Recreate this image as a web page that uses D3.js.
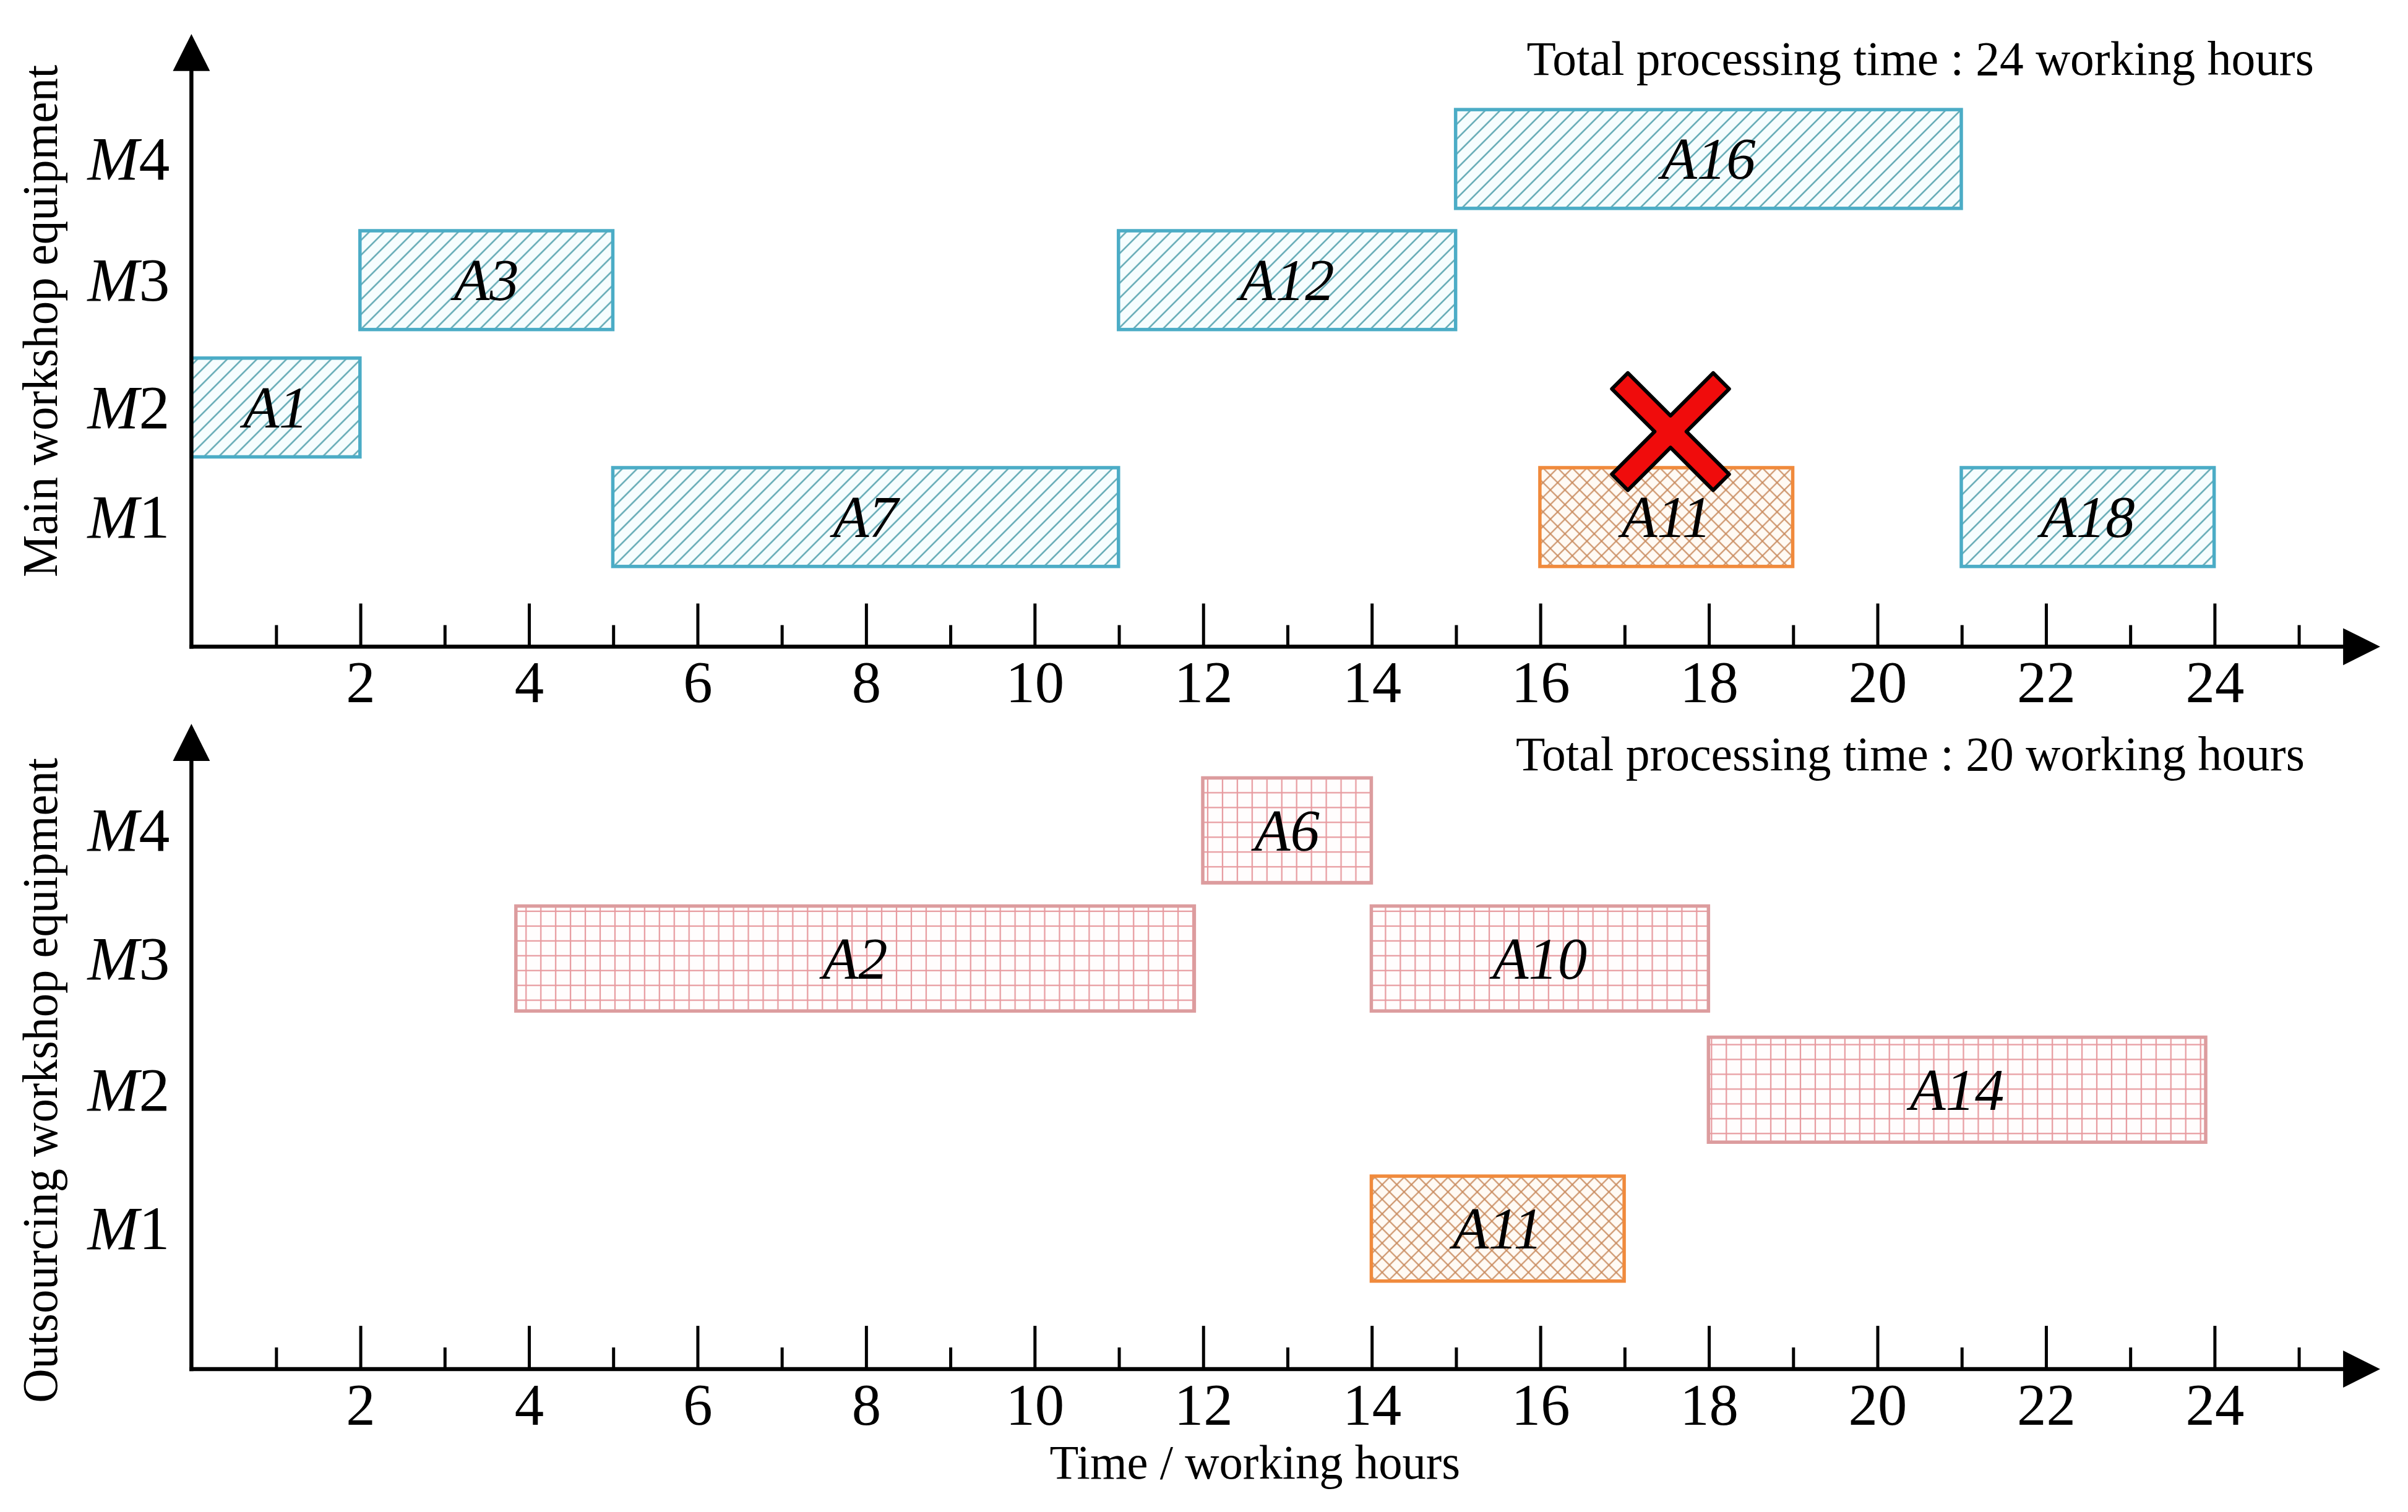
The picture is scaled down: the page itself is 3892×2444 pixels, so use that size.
<!DOCTYPE html>
<html>
<head>
<meta charset="utf-8">
<script src="https://cdn.jsdelivr.net/npm/d3@7"></script>
<style>
  html, body { margin: 0; padding: 0; background: #fff; }
  svg { display: block; }
</style>
</head>
<body>
<div id="gantt"></div>
<script>
// ---- data ----
var machines = ["M1", "M2", "M3", "M4"];

// main workshop (top panel)
var mainTasks   = ["A1", "A3", "A7", "A12", "A16", "A11", "A18"];
var mainMachine = [2, 3, 1, 3, 4, 1, 1];
var mainStart   = [0, 2, 5, 11, 15, 16, 21];
var mainEnd     = [2, 5, 11, 15, 21, 19, 24];
var mainKind    = ["main", "main", "main", "main", "main", "moved", "main"];

// outsourcing workshop (bottom panel)
var outTasks   = ["A2", "A6", "A10", "A14", "A11"];
var outMachine = [3, 4, 3, 2, 1];
var outStart   = [3.85, 12, 14, 18, 14];
var outEnd     = [11.9, 14, 18, 23.9, 17];
var outKind    = ["out", "out", "out", "out", "moved"];

var majorTicks = [2, 4, 6, 8, 10, 12, 14, 16, 18, 20, 22, 24];
var minorTicks = [1, 3, 5, 7, 9, 11, 13, 15, 17, 19, 21, 23, 25];
var totalHours = [24, 20];

// task removed from the main workshop (red cross)
var crossTime = [17.55];
var crossRow  = [1.78];

// ---- layout (drawn in a 1560 x 979.6 box, scaled to the window) ----
var W = 1560, H = 979.6;
var serif = "'Liberation Serif', 'Times New Roman', serif";

var svg = d3.select("#gantt").append("svg")
    .attr("width", 3892)
    .attr("height", 2444)
    .attr("viewBox", "0 0 " + W + " " + H);

var x = d3.scaleLinear().domain([0, 24]).range([124, 1434.4]);
var axisEnd = 25.97;

// patterns
var defs = svg.append("defs");

function hatch(id, bg, color, width, spacing, angle, cross) {
  var p = defs.append("pattern")
      .attr("id", id)
      .attr("patternUnits", "userSpaceOnUse")
      .attr("width", spacing)
      .attr("height", spacing)
      .attr("patternTransform", angle ? "rotate(" + angle + ")" : null);
  p.append("rect").attr("width", spacing).attr("height", spacing).attr("fill", bg);
  p.append("line")
      .attr("x1", spacing / 2).attr("y1", 0)
      .attr("x2", spacing / 2).attr("y2", spacing)
      .attr("stroke", color).attr("stroke-width", width);
  if (cross) {
    p.append("line")
        .attr("x1", 0).attr("y1", spacing / 2)
        .attr("x2", spacing).attr("y2", spacing / 2)
        .attr("stroke", color).attr("stroke-width", width);
  }
}
hatch("hatchMain", "#f6fdfe", "#4f9fab", 0.9, 6.8, 45, false);
hatch("hatchOut", "#fffdfd", "#e79a9f", 0.9, 9.6, 0, true);
hatch("hatchMoved", "#fffaf4", "#c8895c", 0.8, 6.7, 45, true);

var fills   = { main: "url(#hatchMain)", out: "url(#hatchOut)", moved: "url(#hatchMoved)" };
var borders = { main: "#4bacc6", out: "#dc9c9e", moved: "#f08a3c" };

var panels = [
  {
    tasks: mainTasks, machine: mainMachine, start: mainStart, end: mainEnd, kind: mainKind,
    axisY: 419, arrowTop: 22, rowRange: [335, 264, 181.5, 103], barH: 64,
    titleY: 48.5, titleX: 989, titleLen: 510,
    label: "Main workshop equipment", labelY: 208, labelLen: 332
  },
  {
    tasks: outTasks, machine: outMachine, start: outStart, end: outEnd, kind: outKind,
    axisY: 887, arrowTop: 469, rowRange: [796, 706, 621, 538], barH: 68,
    titleY: 499, titleX: 982, titleLen: 511,
    label: "Outsourcing workshop equipment", labelY: 700, labelLen: 418
  }
];

panels.forEach(function(p, pi) {
  var g = svg.append("g").attr("class", "panel");
  // rows are not evenly spaced in the original, so a piecewise scale
  var y = d3.scaleLinear().domain([1, 2, 3, 4]).range(p.rowRange);

  // bars
  var rows = p.tasks.map(function(t, i) {
    return { name: t, row: p.machine[i], s: p.start[i], e: p.end[i], kind: p.kind[i] };
  });

  g.append("g").selectAll("rect")
    .data(rows)
    .enter()
    .append("rect")
      .attr("x", function(d) { return x(d.s); })
      .attr("y", function(d) { return y(d.row) - p.barH / 2; })
      .attr("width", function(d) { return x(d.e) - x(d.s); })
      .attr("height", p.barH)
      .attr("fill", function(d) { return fills[d.kind]; })
      .attr("stroke", function(d) { return borders[d.kind]; })
      .attr("stroke-width", 2.2);

  g.append("g").selectAll("text")
    .data(rows)
    .enter()
    .append("text")
      .attr("x", function(d) { return (x(d.s) + x(d.e)) / 2; })
      .attr("y", function(d) { return y(d.row) + 13; })
      .attr("text-anchor", "middle")
      .attr("font-family", serif)
      .attr("font-style", "italic")
      .attr("font-size", 38)
      .text(function(d) { return d.name; });

  // x axis: major and minor ticks
  var major = d3.axisBottom(x)
      .tickValues(majorTicks)
      .tickSizeInner(-28)
      .tickSizeOuter(0)
      .tickPadding(9)
      .tickFormat(d3.format("d"));
  var minor = d3.axisBottom(x)
      .tickValues(minorTicks)
      .tickSizeInner(-14)
      .tickSizeOuter(0)
      .tickFormat("");

  var gx = g.append("g").attr("transform", "translate(0," + p.axisY + ")").call(major);
  var gm = g.append("g").attr("transform", "translate(0," + p.axisY + ")").call(minor);
  [gx, gm].forEach(function(a) {
    a.select(".domain").remove();
    a.selectAll(".tick line").attr("stroke", "#000").attr("stroke-width", 2);
  });
  gx.selectAll(".tick text")
      .attr("font-family", serif)
      .attr("font-size", 38)
      .attr("fill", "#000");

  // y axis labels  M1..M4 (italic M, upright digit)
  var yAxis = d3.axisLeft(y).tickValues([1, 2, 3, 4]).tickSize(0).tickPadding(14);
  var gy = g.append("g").attr("transform", "translate(" + x(0) + ",0)").call(yAxis);
  gy.select(".domain").remove();
  gy.selectAll(".tick text")
      .attr("font-family", serif)
      .attr("font-size", 40)
      .attr("fill", "#000")
      .each(function(d) {
        var t = d3.select(this).text("");
        t.append("tspan").attr("font-style", "italic").text("M");
        t.append("tspan").text(machines[d - 1].slice(1));
      });

  // axis lines with arrow heads
  var x0 = x(0), xTip = x(axisEnd);
  g.append("line")
      .attr("x1", x0 - 1.3).attr("y1", p.axisY)
      .attr("x2", xTip - 20).attr("y2", p.axisY)
      .attr("stroke", "#000").attr("stroke-width", 2.6);
  g.append("line")
      .attr("x1", x0).attr("y1", p.axisY + 1.3)
      .attr("x2", x0).attr("y2", p.arrowTop + 20)
      .attr("stroke", "#000").attr("stroke-width", 2.6);
  g.append("path")
      .attr("d", "M" + xTip + "," + p.axisY + "L" + (xTip - 24) + "," + (p.axisY - 12) +
                 "L" + (xTip - 24) + "," + (p.axisY + 12) + "Z")
      .attr("fill", "#000");
  g.append("path")
      .attr("d", "M" + x0 + "," + p.arrowTop + "L" + (x0 - 12) + "," + (p.arrowTop + 24) +
                 "L" + (x0 + 12) + "," + (p.arrowTop + 24) + "Z")
      .attr("fill", "#000");

  // total processing time
  g.append("text")
      .attr("x", p.titleX)
      .attr("y", p.titleY)
      .attr("font-family", serif)
      .attr("font-size", 31)
      .attr("textLength", p.titleLen)
      .attr("lengthAdjust", "spacingAndGlyphs")
      .text("Total processing time : " + totalHours[pi] + " working hours");

  // vertical axis title
  g.append("text")
      .attr("transform", "translate(37," + p.labelY + ") rotate(-90)")
      .attr("text-anchor", "middle")
      .attr("font-family", serif)
      .attr("font-size", 32)
      .attr("textLength", p.labelLen)
      .attr("lengthAdjust", "spacingAndGlyphs")
      .text(p.label);

  // red cross on the moved task (top panel only)
  if (pi === 0) {
    var a = 46.4, w = 7.3;
    var pts = [[-w,-a],[w,-a],[w,-w],[a,-w],[a,w],[w,w],[w,a],[-w,a],[-w,w],[-a,w],[-a,-w],[-w,-w]];
    var c = Math.SQRT1_2;
    g.selectAll(".cross")
      .data(crossTime.map(function(t, i) { return { t: t, row: crossRow[i] }; }))
      .enter()
      .append("path")
        .attr("class", "cross")
        .attr("transform", function(d) { return "translate(" + x(d.t) + "," + y(d.row) + ")"; })
        .attr("d", "M" + pts.map(function(q) {
          return [(q[0] - q[1]) * c, (q[0] + q[1]) * c].join(",");
        }).join("L") + "Z")
        .attr("fill", "#f00c0c")
        .attr("stroke", "#000")
        .attr("stroke-width", 2.4)
        .attr("stroke-linejoin", "round");
  }
});

// time axis title
svg.append("text")
    .attr("x", 813)
    .attr("y", 958)
    .attr("text-anchor", "middle")
    .attr("font-family", serif)
    .attr("font-size", 31)
    .attr("textLength", 266)
    .attr("lengthAdjust", "spacingAndGlyphs")
    .text("Time / working hours");
</script>
</body>
</html>
